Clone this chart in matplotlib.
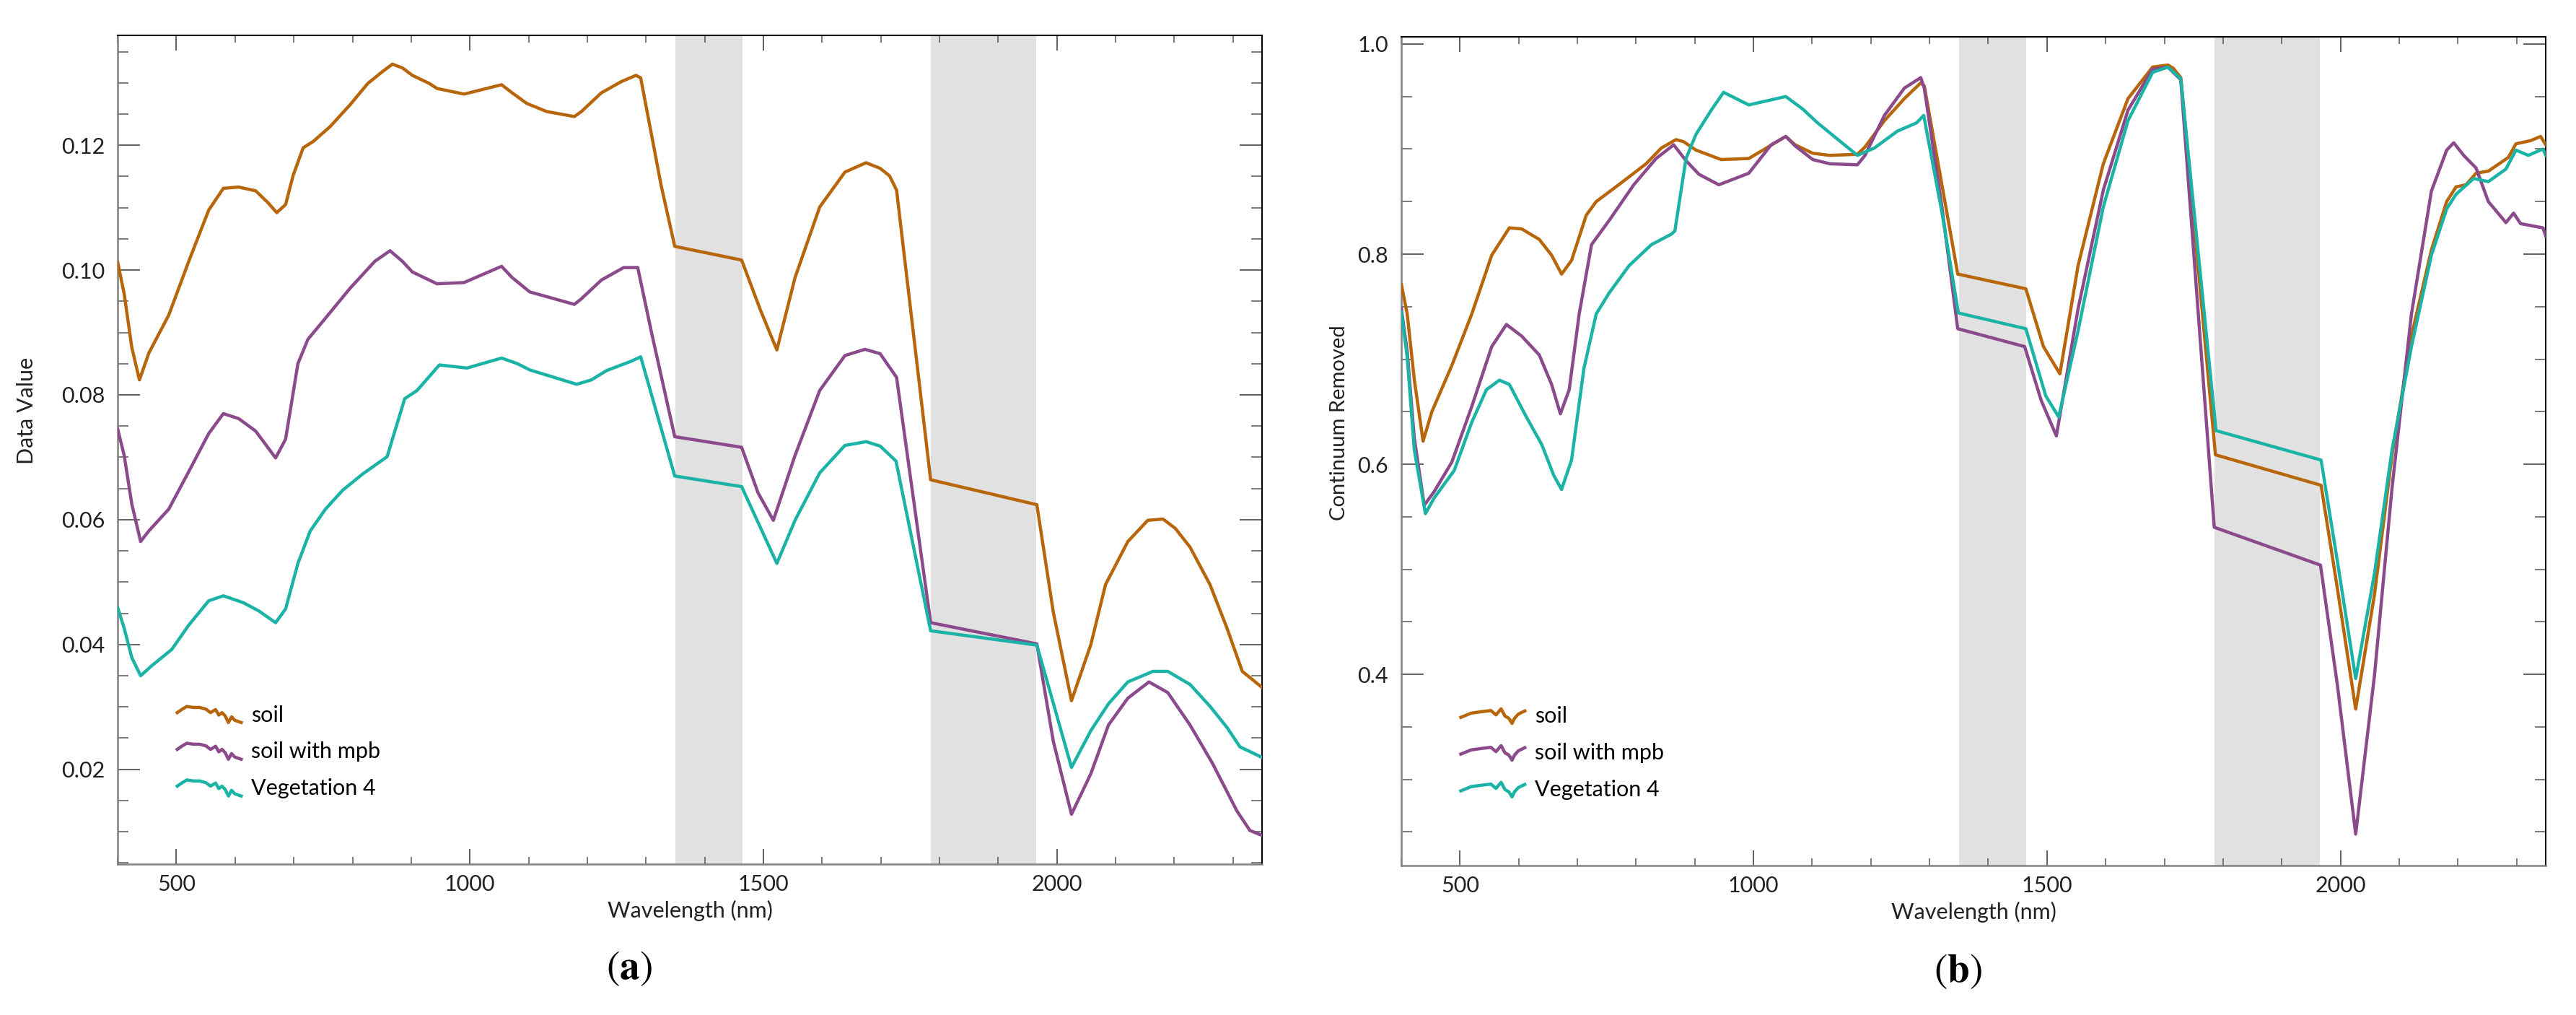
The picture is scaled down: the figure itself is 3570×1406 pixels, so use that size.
import matplotlib
matplotlib.use("Agg")
import matplotlib.pyplot as plt
import numpy as np
from matplotlib.legend_handler import HandlerBase
from matplotlib.lines import Line2D
from matplotlib.ticker import MultipleLocator

plt.rcParams['font.family'] = ['Lato', 'DejaVu Sans']
plt.rcParams['mathtext.fontset'] = 'stix'

# ---- panel (a): reflectance ("Data Value") ----
wl_soil_a = [400, 411, 424, 437, 453, 487, 521, 555, 580, 606, 635, 656, 671, 686, 699, 716, 733, 762, 796, 826,
             851, 868, 885, 902, 931, 944, 990, 1054, 1072, 1097, 1131, 1178, 1190, 1224, 1258, 1283, 1291, 1326, 1349, 1463,
             1495, 1523, 1554, 1596, 1639, 1675, 1699, 1715, 1727, 1785, 1966, 1994, 2025, 2058, 2083, 2121, 2155, 2181, 2202, 2227,
             2261, 2290, 2316, 2350]
soil_a = [0.1012, 0.0962, 0.0876, 0.0824, 0.0867, 0.0928, 0.1014, 0.1096, 0.1131, 0.1133, 0.1127, 0.1108, 0.1092, 0.1105, 0.1152, 0.1196, 0.1206, 0.1230, 0.1265, 0.1299,
          0.1318, 0.1330, 0.1324, 0.1312, 0.1299, 0.1291, 0.1282, 0.1297, 0.1284, 0.1267, 0.1254, 0.1246, 0.1254, 0.1284, 0.1302, 0.1312, 0.1308, 0.1135, 0.1038, 0.1016,
          0.0936, 0.0872, 0.0988, 0.1101, 0.1157, 0.1172, 0.1163, 0.1151, 0.1128, 0.0664, 0.0624, 0.0452, 0.0310, 0.0400, 0.0496, 0.0565, 0.0599, 0.0601, 0.0586, 0.0556,
          0.0496, 0.0426, 0.0357, 0.0331]

wl_mpb_a = [400, 411, 424, 439, 453, 487, 521, 555, 580, 606, 635, 669, 686, 707, 724, 754, 796, 838, 864, 885,
            902, 944, 990, 1054, 1072, 1102, 1178, 1190, 1224, 1262, 1286, 1309, 1349, 1463, 1491, 1517, 1554, 1596, 1639, 1673,
            1699, 1727, 1785, 1966, 1994, 2025, 2058, 2088, 2121, 2157, 2189, 2227, 2265, 2307, 2329, 2350]
mpb_a = [0.0745, 0.0703, 0.0625, 0.0565, 0.0582, 0.0617, 0.0677, 0.0738, 0.0770, 0.0762, 0.0742, 0.0699, 0.0729, 0.0850, 0.0889, 0.0923, 0.0971, 0.1014, 0.1031, 0.1014,
         0.0997, 0.0978, 0.0980, 0.1006, 0.0988, 0.0965, 0.0945, 0.0954, 0.0984, 0.1004, 0.1004, 0.0902, 0.0733, 0.0716, 0.0643, 0.0599, 0.0703, 0.0807, 0.0863, 0.0873,
         0.0866, 0.0828, 0.0435, 0.0401, 0.0245, 0.0128, 0.0193, 0.0271, 0.0314, 0.0340, 0.0323, 0.0271, 0.0210, 0.0133, 0.0102, 0.0094]

wl_veg_a = [400, 411, 424, 439, 458, 492, 521, 555, 580, 614, 640, 669, 686, 707, 728, 754, 783, 817, 859, 868,
            889, 910, 948, 995, 1054, 1081, 1102, 1182, 1207, 1233, 1275, 1291, 1349, 1463, 1523, 1554, 1596, 1639, 1675, 1699,
            1726, 1785, 1966, 2025, 2058, 2088, 2121, 2164, 2189, 2227, 2261, 2290, 2312, 2350]
veg_a = [0.0459, 0.0426, 0.0379, 0.0350, 0.0366, 0.0392, 0.0431, 0.0470, 0.0478, 0.0467, 0.0454, 0.0435, 0.0457, 0.0530, 0.0582, 0.0617, 0.0647, 0.0673, 0.0701, 0.0729,
         0.0794, 0.0807, 0.0848, 0.0843, 0.0859, 0.0850, 0.0840, 0.0817, 0.0824, 0.0839, 0.0854, 0.0861, 0.0670, 0.0653, 0.0530, 0.0599, 0.0675, 0.0719, 0.0725, 0.0718,
         0.0694, 0.0422, 0.0399, 0.0203, 0.0262, 0.0305, 0.0340, 0.0357, 0.0357, 0.0336, 0.0301, 0.0267, 0.0236, 0.0219]

# ---- panel (b): continuum removed ----
wl_soil_b = [400, 410, 422, 437, 452, 486, 520, 554, 584, 605, 635, 656, 673, 690, 715, 732, 775, 817, 843, 868,
             881, 902, 945, 992, 1055, 1071, 1101, 1130, 1177, 1190, 1223, 1257, 1285, 1291, 1321, 1348, 1464, 1494, 1522, 1553,
             1596, 1638, 1680, 1706, 1715, 1728, 1787, 1967, 1995, 2026, 2058, 2088, 2121, 2155, 2181, 2197, 2214, 2231, 2252, 2286,
             2299, 2324, 2341, 2350]
soil_b = [0.771, 0.743, 0.681, 0.622, 0.650, 0.694, 0.743, 0.799, 0.825, 0.824, 0.814, 0.799, 0.781, 0.794, 0.837, 0.850, 0.868, 0.886, 0.901, 0.909,
          0.907, 0.899, 0.890, 0.891, 0.912, 0.904, 0.896, 0.894, 0.895, 0.902, 0.927, 0.948, 0.963, 0.960, 0.866, 0.781, 0.767, 0.712, 0.686, 0.789,
          0.886, 0.948, 0.978, 0.980, 0.977, 0.968, 0.609, 0.580, 0.481, 0.367, 0.476, 0.609, 0.722, 0.804, 0.850, 0.864, 0.866, 0.877, 0.879, 0.892,
          0.905, 0.908, 0.912, 0.904]

wl_mpb_b = [400, 410, 422, 439, 456, 486, 520, 554, 579, 605, 635, 656, 671, 686, 703, 724, 754, 796, 834, 864,
            885, 907, 941, 992, 1030, 1055, 1071, 1101, 1130, 1177, 1190, 1223, 1257, 1285, 1291, 1321, 1348, 1462, 1490, 1516,
            1553, 1596, 1638, 1680, 1706, 1728, 1785, 1966, 1995, 2026, 2058, 2088, 2121, 2155, 2181, 2193, 2210, 2231, 2252, 2282,
            2295, 2307, 2345, 2350]
mpb_b = [0.748, 0.707, 0.625, 0.561, 0.574, 0.602, 0.655, 0.712, 0.733, 0.722, 0.704, 0.676, 0.648, 0.671, 0.743, 0.809, 0.832, 0.866, 0.891, 0.904,
         0.889, 0.876, 0.866, 0.877, 0.904, 0.912, 0.903, 0.890, 0.886, 0.885, 0.894, 0.932, 0.958, 0.968, 0.958, 0.845, 0.729, 0.712, 0.661, 0.627,
         0.748, 0.861, 0.937, 0.976, 0.978, 0.966, 0.540, 0.504, 0.389, 0.248, 0.399, 0.578, 0.743, 0.860, 0.899, 0.906, 0.894, 0.882, 0.850, 0.830,
         0.839, 0.829, 0.825, 0.817]

wl_veg_b = [400, 410, 422, 441, 456, 490, 520, 545, 567, 584, 613, 639, 660, 673, 690, 711, 732, 754, 788, 826,
            860, 866, 885, 902, 928, 949, 992, 1055, 1084, 1109, 1177, 1206, 1245, 1278, 1290, 1321, 1349, 1464, 1498, 1520,
            1553, 1596, 1638, 1680, 1706, 1728, 1788, 1967, 1995, 2026, 2058, 2088, 2121, 2155, 2181, 2197, 2227, 2252, 2282, 2299,
            2320, 2345, 2350]
veg_b = [0.745, 0.702, 0.614, 0.553, 0.568, 0.594, 0.640, 0.671, 0.680, 0.676, 0.645, 0.619, 0.589, 0.576, 0.604, 0.691, 0.743, 0.763, 0.789, 0.809,
         0.819, 0.822, 0.891, 0.914, 0.937, 0.954, 0.942, 0.950, 0.938, 0.925, 0.894, 0.901, 0.917, 0.925, 0.932, 0.840, 0.744, 0.729, 0.665, 0.645,
         0.727, 0.845, 0.927, 0.973, 0.978, 0.967, 0.632, 0.604, 0.507, 0.396, 0.496, 0.614, 0.712, 0.799, 0.843, 0.857, 0.872, 0.869, 0.881, 0.899,
         0.894, 0.900, 0.894]

labels = ['soil', 'soil with mpb', 'Vegetation 4']
colors = ['#b8660b', '#8b4a8b', '#1bb3a6']
bad_bands = [(1350, 1465), (1785, 1965)]

# little spectrum-shaped legend keys (x fraction, y in handle heights)
key_a = ([0, .07, .15, .25, .35, .45, .52, .6, .65, .7, .75, .8, .85, .9, 1.0],
         [0.1, 0.35, 0.6, 0.52, 0.52, 0.38, 0.1, 0.35, -0.1, 0.1, -0.17, -0.7, -0.24, -0.52, -0.7])
key_b = ([0, .16, .31, .47, .55, .59, .63, .69, .75, .8, .84, .9, 1.0],
         [-0.17, 0.17, 0.28, 0.38, 0.03, 0.28, 0.52, -0.07, -0.24, -0.66, -0.24, 0.1, 0.35])


class SpectrumKey(HandlerBase):
    def __init__(self, shape):
        super().__init__()
        self.shape = shape

    def create_artists(self, legend, orig_handle, xdescent, ydescent, width, height, fontsize, trans):
        fx, fy = self.shape
        xs = -xdescent + width * np.array(fx)
        ys = -ydescent + height * (0.5 + 0.8 * np.array(fy))
        ln = Line2D(xs, ys, color=orig_handle.get_color(), lw=orig_handle.get_linewidth())
        ln.set_transform(trans)
        return [ln]


def style_axes(ax, ylim, ymajor, yminor, yfmt):
    ax.set_xlim(400, 2350)
    ax.set_ylim(*ylim)
    ax.xaxis.set_major_locator(MultipleLocator(500))
    ax.xaxis.set_minor_locator(MultipleLocator(100))
    ax.yaxis.set_major_locator(MultipleLocator(ymajor))
    ax.yaxis.set_minor_locator(MultipleLocator(yminor))
    ax.yaxis.set_major_formatter(yfmt)
    ax.tick_params(axis='both', which='both', direction='in', top=True, right=True, colors='#555555', labelcolor='#222222')
    ax.tick_params(axis='x', which='major', length=15, width=1.3, labelsize=22, pad=10)
    ax.tick_params(axis='x', which='minor', length=7, width=1.1)
    ax.tick_params(axis='y', which='major', length=22, width=1.3, labelsize=22, pad=13)
    ax.tick_params(axis='y', which='minor', length=11, width=1.1)
    for side in ['left', 'bottom']:
        ax.spines[side].set_color('#808080')
        ax.spines[side].set_linewidth(1.8)
    for side in ['top', 'right']:
        ax.spines[side].set_color('black')
        ax.spines[side].set_linewidth(1.5)
    for lo, hi in bad_bands:
        ax.axvspan(lo, hi, color='#e1e1e1', lw=0, zorder=0)
    ax.set_xlabel('Wavelength (nm)', fontsize=22, color='#222222', labelpad=6)


fig = plt.figure(figsize=(35.7, 14.06), dpi=100)
ax_a = fig.add_axes([0.0457, 0.1486, 0.4443, 0.8165])
ax_b = fig.add_axes([0.5440, 0.1472, 0.4443, 0.8167])

series_a = [(wl_soil_a, soil_a), (wl_mpb_a, mpb_a), (wl_veg_a, veg_a)]
series_b = [(wl_soil_b, soil_b), (wl_mpb_b, mpb_b), (wl_veg_b, veg_b)]

for ax, series in [(ax_a, series_a), (ax_b, series_b)]:
    for (x, y), lab, c in zip(series, labels, colors):
        ax.plot(x, y, color=c, lw=3.2, label=lab, zorder=3)

style_axes(ax_a, (0.0048, 0.1376), 0.02, 0.005, '{x:.2f}')
style_axes(ax_b, (0.218, 1.007), 0.2, 0.05, '{x:.1f}')

ax_a.set_ylabel('Data Value', fontsize=22, color='#222222')
ax_a.yaxis.set_label_coords(-0.071, 0.547)
ax_b.set_ylabel('Continuum Removed', fontsize=21, color='#222222')
ax_b.yaxis.set_label_coords(-0.046, 0.534)

for ax, key in [(ax_a, key_a), (ax_b, key_b)]:
    ax.legend(loc='lower left', bbox_to_anchor=(0.052, 0.079), frameon=False, fontsize=22,
              handlelength=2.9, handletextpad=0.45, labelspacing=0.75, borderpad=0, borderaxespad=0,
              handler_map={Line2D: SpectrumKey(key)})

fig.text(872 / 3570, 1 - 1342 / 1406, r'($\mathbf{a}$)', ha='center', va='center', fontsize=40, family='STIXGeneral')
fig.text(2714 / 3570, 1 - 1345 / 1406, r'($\mathbf{b}$)', ha='center', va='center', fontsize=40, family='STIXGeneral')

fig.savefig('out.png', dpi=100, facecolor='white')
